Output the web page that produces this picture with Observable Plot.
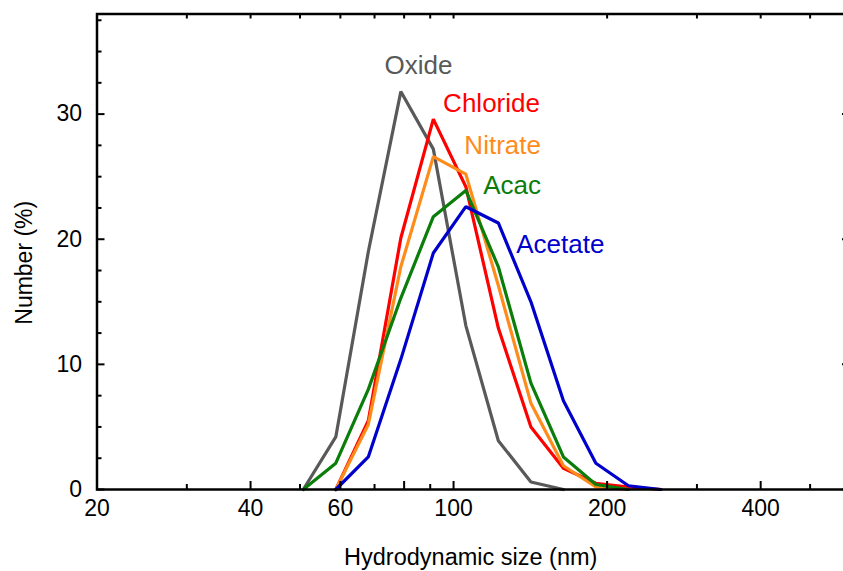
<!DOCTYPE html>
<html>
<head>
<meta charset="utf-8">
<script src="https://cdn.jsdelivr.net/npm/d3@7"></script>
<script src="https://cdn.jsdelivr.net/npm/@observablehq/plot@0.6"></script>
<style>
  html, body { margin: 0; padding: 0; background: #fff; }
</style>
</head>
<body>
<div id="chart"></div>
<script>
// Bin centres (nm)
const sizes    = [50.75, 58.77, 68.06, 78.82, 91.28, 105.7, 122.4, 141.8, 164.2, 190.1, 220.2, 255.0];
// Number (%) per series (null = not drawn)
const oxide    = [0, 4.2, 19.0, 31.8, 27.2, 13.1, 3.9, 0.6, 0, null, null, null];
const chloride = [null, 0, 5.5, 20.1, 29.6, 24.2, 12.9, 5.0, 1.7, 0.5, 0.2, 0];
const nitrate  = [null, 0, 5.2, 17.8, 26.6, 25.2, 16.3, 6.9, 1.9, 0.2, 0, null];
const acac     = [0, 2.1, 8.0, 15.3, 21.8, 23.9, 17.8, 8.5, 2.6, 0.4, 0, null];
const acetate  = [null, 0, 2.6, 10.4, 18.9, 22.6, 21.3, 15.0, 7.1, 2.1, 0.3, 0];

const seriesNames  = ["Oxide", "Chloride", "Nitrate", "Acac", "Acetate"];
const seriesValues = [oxide, chloride, nitrate, acac, acetate];
const seriesColors = ["#595959", "#ff0000", "#ff8c1a", "#0a7d0a", "#0000cc"];

// Label anchors (data coordinates: size, number)
const labelX = [73.2, 95.4, 105.0, 114.3, 132.7];
const labelY = [33.2, 30.2, 26.8, 23.6, 18.9];

// Tick values
const xTickLabels = [20, 40, 60, 80, 100, 200, 400];
const xMajor = [40, 60, 80, 100, 200, 400];
const xMinor = [30, 50, 70, 90, 300, 500];
const xTop   = [30, 40, 50, 60, 70, 80, 90, 100, 200, 300, 400, 500];
const yMajor = [0, 10, 20, 30];
const yMinor = [2.5, 5, 7.5, 12.5, 15, 17.5, 22.5, 25, 27.5, 32.5, 35, 37.5];

const rows = [];
seriesNames.forEach((name, i) => {
  sizes.forEach((s, j) => {
    const v = seriesValues[i][j];
    if (v != null) rows.push({series: name, size: s, value: v});
  });
});
const labels = seriesNames.map((name, i) => ({series: name, x: labelX[i], y: labelY[i]}));

const W = 843, H = 571, ML = 96.5, MR = -7, MT = 13.5, MB = 82;
const plotW = W - MR - ML, plotH = H - MB - MT;

const chart = Plot.plot({
  width: W,
  height: H,
  marginLeft: ML,
  marginRight: MR,
  marginTop: MT,
  marginBottom: MB,
  style: {fontFamily: "'Liberation Sans', Arial, sans-serif", background: "#fff", color: "#000", overflow: "hidden"},
  x: {type: "log", domain: [20, 600], axis: null},
  y: {domain: [0, 38], axis: null},
  color: {domain: seriesNames, range: seriesColors},
  marks: [
    Plot.line(rows, {x: "size", y: "value", z: "series", stroke: "series", strokeWidth: 3.2, strokeLinejoin: "miter"}),
    Plot.frame({stroke: "#000", strokeWidth: 2.5}),
    // bottom ticks
    Plot.tickX(xMajor, {x: d => d, insetTop: plotH - 8, stroke: "#000", strokeWidth: 2}),
    Plot.tickX(xMinor, {x: d => d, insetTop: plotH - 5, stroke: "#000", strokeWidth: 2}),
    // top ticks
    Plot.tickX(xTop, {x: d => d, insetBottom: plotH - 5, stroke: "#000", strokeWidth: 2}),
    // left ticks
    Plot.tickY(yMajor, {y: d => d, insetRight: plotW - 8, stroke: "#000", strokeWidth: 2}),
    Plot.tickY(yMinor, {y: d => d, insetRight: plotW - 5, stroke: "#000", strokeWidth: 2}),
    // right ticks
    Plot.tickY(yMajor, {y: d => d, insetLeft: plotW - 8, stroke: "#000", strokeWidth: 2}),
    Plot.tickY(yMinor, {y: d => d, insetLeft: plotW - 5, stroke: "#000", strokeWidth: 2}),
    Plot.axisX(xTickLabels, {tickSize: 0, tickPadding: 10, fontSize: 23, tickFormat: d => String(d), label: null}),
    Plot.axisY(yMajor, {tickSize: 0, tickPadding: 15, fontSize: 23, tickFormat: d => String(d), label: null}),
    Plot.text(labels, {x: "x", y: "y", text: "series", fill: "series", fontSize: 26, textAnchor: "start", lineAnchor: "bottom"}),
    Plot.text(["Hydrodynamic size (nm)"], {frameAnchor: "bottom", textAnchor: "middle", dx: -3, dy: 75, lineAnchor: "bottom", fontSize: 23.5, fill: "#000"}),
    Plot.text(["Number (%)"], {frameAnchor: "left", textAnchor: "middle", rotate: -90, dx: -72.5, dy: 11, lineAnchor: "middle", fontSize: 23, fill: "#000"})
  ]
});
document.getElementById("chart").appendChild(chart);
</script>
</body>
</html>
